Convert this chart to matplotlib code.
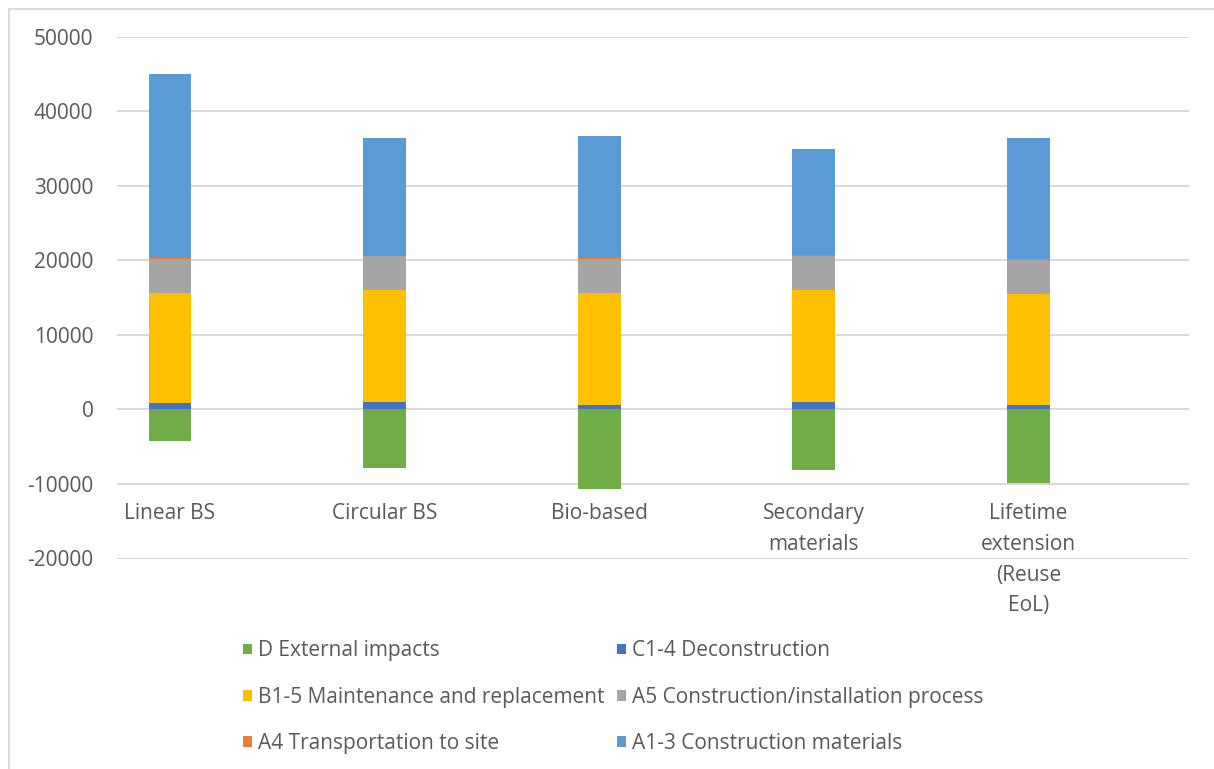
import matplotlib
matplotlib.use("Agg")
import matplotlib.pyplot as plt
from matplotlib.patches import Rectangle, Patch

# Scenario names and life-cycle stage contributions
categories = ["Linear BS", "Circular BS", "Bio-based", "Secondary\nmaterials",
              "Lifetime\nextension\n(Reuse\nEoL)"]
d_external = [-4250, -7860, -10630, -8130, -9820]
c_deconstruction = [850, 980, 580, 1030, 540]
b_maintenance = [14830, 15010, 15060, 14960, 14960]
a5_construction = [4550, 4550, 4550, 4650, 4600]
a4_transport = [80, 80, 80, 80, 80]
a13_materials = [24720, 15780, 16400, 14180, 16270]

series_names = ["D External impacts", "C1-4 Deconstruction",
                "B1-5 Maintenance and replacement", "A5 Construction/installation process",
                "A4 Transportation to site", "A1-3 Construction materials"]
yticks = [-20000, -10000, 0, 10000, 20000, 30000, 40000, 50000]

colors = {
    "D": "#70AD47", "C": "#4472C4", "B": "#FFC000",
    "A5": "#A5A5A5", "A4": "#ED7D31", "A13": "#5B9BD5",
}
text_color = "#595959"
grid_color = "#D9D9D9"

plt.rcParams["font.family"] = ["Open Sans", "DejaVu Sans"]

W, H = 1214, 769
fig = plt.figure(figsize=(W / 100, H / 100), dpi=100)

# Chart-area outline (left and top edges visible)
fig.patches.append(Rectangle((8.5 / W, -0.1), 1.2, (H - 8.5) / H + 0.1,
                             transform=fig.transFigure, fill=False,
                             edgecolor=grid_color, linewidth=1.3, zorder=0))

x0, x1 = 117, 1189
y_top, y_bot = 36.7, 558.5
ax = fig.add_axes([x0 / W, 1 - y_bot / H, (x1 - x0) / W, (y_bot - y_top) / H])
ax.set_facecolor("none")

xs = list(range(len(categories)))
width = 0.2

ax.bar(xs, d_external, width, color=colors["D"], zorder=3)
bottom = [0] * len(xs)
for vals, key in [(c_deconstruction, "C"), (b_maintenance, "B"),
                  (a5_construction, "A5"), (a4_transport, "A4"),
                  (a13_materials, "A13")]:
    ax.bar(xs, vals, width, bottom=bottom, color=colors[key], zorder=3)
    bottom = [b + v for b, v in zip(bottom, vals)]

ax.set_ylim(-20000, 50000)
ax.set_xlim(-0.247, 4.748)
ax.set_yticks(yticks)
ax.set_yticklabels([str(t) for t in yticks])
ax.yaxis.grid(True, color=grid_color, linewidth=1.4, zorder=0)
ax.set_axisbelow(True)

for s in ax.spines.values():
    s.set_visible(False)
ax.spines["bottom"].set_position(("data", -10000))

ax.set_xticks(xs)
ax.set_xticklabels(categories, linespacing=1.6)
ax.tick_params(axis="both", length=0, labelsize=15, labelcolor=text_color)
ax.tick_params(axis="y", pad=17)
ax.tick_params(axis="x", pad=14)

# Legend laid out row by row in two columns
handle_map = {
    "D External impacts": colors["D"],
    "C1-4 Deconstruction": colors["C"],
    "B1-5 Maintenance and replacement": colors["B"],
    "A5 Construction/installation process": colors["A5"],
    "A4 Transportation to site": colors["A4"],
    "A1-3 Construction materials": colors["A13"],
}
order = [0, 2, 4, 1, 3, 5]
handles = [Patch(facecolor=handle_map[series_names[i]], label=series_names[i]) for i in order]
fig.legend(handles=handles, ncol=2, loc="upper left",
           bbox_to_anchor=(233 / W, 1 - 630 / H), frameon=False,
           fontsize=15, labelcolor=text_color, handlelength=0.42,
           handleheight=0.42, handletextpad=0.28, columnspacing=0.6,
           labelspacing=1.22, borderpad=0)

fig.savefig("out.png", dpi=100, facecolor="white")
